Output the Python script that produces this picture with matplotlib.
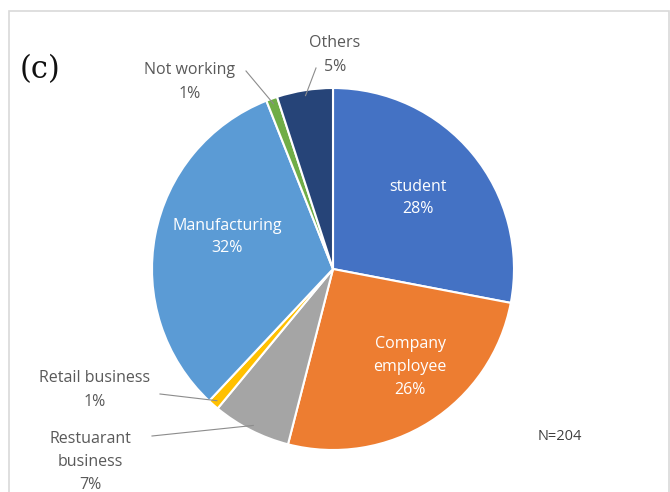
import matplotlib.pyplot as plt
import numpy as np
from matplotlib.patches import Rectangle

# occupation shares (%), clockwise from 12 o'clock
categories = ['student', 'Company\nemployee', 'Restuarant\nbusiness', 'Retail business',
              'Manufacturing', 'Not working', 'Others']
shares = [28, 26, 7, 1, 32, 1, 5]
colors = ['#4472C4', '#ED7D31', '#A5A5A5', '#FFC000', '#5B9BD5', '#70AD47', '#264478']
inside = [True, True, False, False, True, False, False]

# label text positions in figure pixels (x, y from top)
label_pos = [(418, 198), (410, 367), (90, 462), (95, 390), (227, 237), (190, 82), (335, 55)]
leader_tail = [None, None, (152, 436), (160, 394), None, (246, 71), (316, 68)]

W, H = 670, 492
CX, CY, R = 333, 269, 181
FONT = 'Open Sans'

fig = plt.figure(figsize=(W / 100, H / 100), dpi=100)
ax = fig.add_axes([0, 0, 1, 1])

wedges, _ = ax.pie(shares, colors=colors, startangle=90, counterclock=False,
                   center=(CX, H - CY), radius=R, frame=True,
                   wedgeprops=dict(edgecolor='white', linewidth=1.5))
ax.set_xlim(0, W)
ax.set_ylim(0, H)
ax.set_aspect('equal')
ax.axis('off')

# thin frame around the chart area
ax.add_patch(Rectangle((9, -5), 660, H - 11 + 5, fill=False, edgecolor='#d9d9d9', linewidth=1.2))

for i, (name, val) in enumerate(zip(categories, shares)):
    x, y = label_pos[i]
    txt = f'{name}\n{val}%'
    if inside[i]:
        ax.text(x, H - y, txt, ha='center', va='center', color='white',
                fontsize=11.5, family=FONT, linespacing=1.55)
    else:
        ax.text(x, H - y, txt, ha='center', va='center', color='#595959',
                fontsize=11.5, family=FONT, linespacing=1.6)
        # leader line from text to the middle of its slice edge
        w = wedges[i]
        mid = np.deg2rad((w.theta1 + w.theta2) / 2)
        ex = CX + R * 0.97 * np.cos(mid)
        ey = H - CY + R * 0.97 * np.sin(mid)
        tx, ty = leader_tail[i]
        ax.plot([tx, ex], [H - ty, ey], color='#8c8c8c', linewidth=0.8)

ax.text(20, H - 70, '(c)', ha='left', va='center', fontsize=22, family='DejaVu Serif', color='#111111')
ax.text(560, H - 437, 'N=204', ha='center', va='center', fontsize=10.5, family=FONT, color='#404040')

plt.savefig('out.png', dpi=100)
